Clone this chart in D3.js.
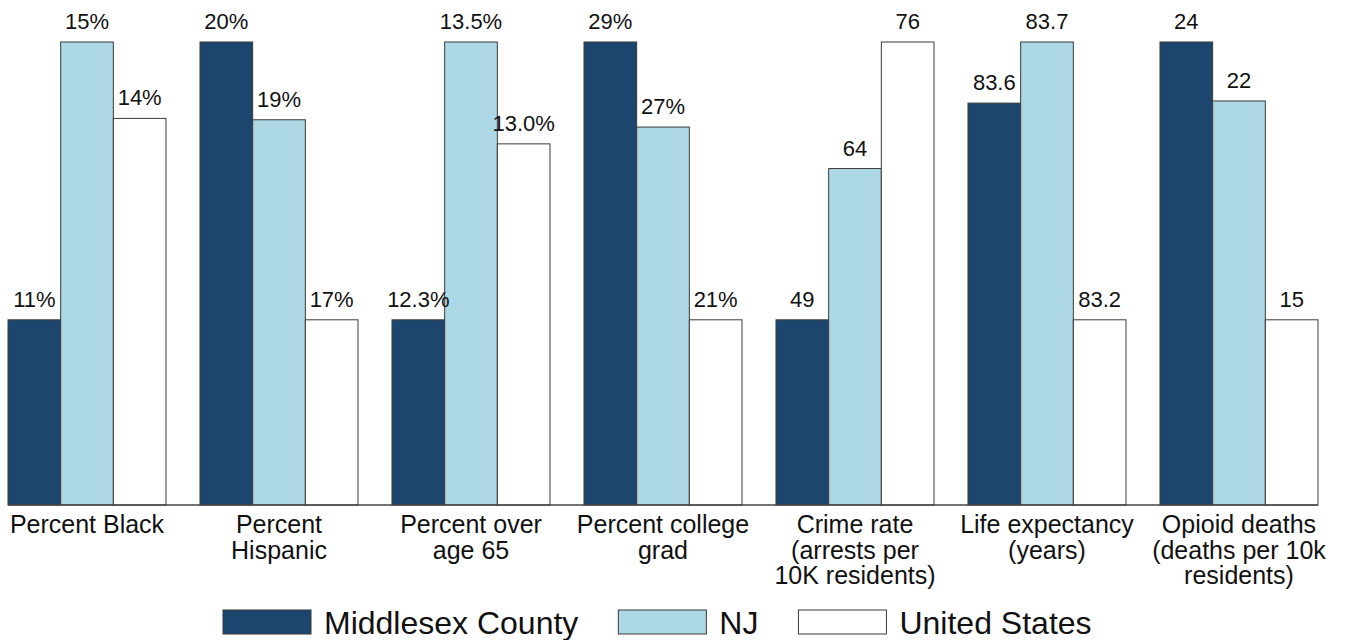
<!DOCTYPE html>
<html>
<head>
<meta charset="utf-8">
<script src="https://cdn.jsdelivr.net/npm/d3@7"></script>
<style>
  body { margin: 0; background: white; }
  svg { font-family: "Liberation Sans", Arial, sans-serif; }
</style>
</head>
<body>
<svg id="chart"></svg>
<script>
// categories and series
const categories = [
  ["Percent Black"],
  ["Percent", "Hispanic"],
  ["Percent over", "age 65"],
  ["Percent college", "grad"],
  ["Crime rate", "(arrests per", "10K residents)"],
  ["Life expectancy", "(years)"],
  ["Opioid deaths", "(deaths per 10k", "residents)"]
];
const seriesNames = ["Middlesex County", "NJ", "United States"];

const middlesex = [11, 20, 12.3, 29, 49, 83.59, 24];
const nj        = [15, 19.16, 13.5, 26.55, 63.7, 83.7, 22.09];
const us        = [13.9, 17, 13.06, 21, 76, 83.2, 15];

const middlesexLabels = ["11%", "20%", "12.3%", "29%", "49", "83.6", "24"];
const njLabels        = ["15%", "19%", "13.5%", "27%", "64", "83.7", "22"];
const usLabels        = ["14%", "17%", "13.0%", "21%", "76", "83.2", "15"];

const colors = ["#1c466e", "#add8e6", "#ffffff"];

const width = 1348, height = 640;
const margin = {top: 42, left: 8, right: 30, bottom: 135};
const baseY = height - margin.bottom;

const svg = d3.select("#chart")
  .attr("width", width)
  .attr("height", height);

const series = [middlesex, nj, us];
const labels = [middlesexLabels, njLabels, usLabels];

const x = d3.scaleBand()
  .domain(d3.range(categories.length))
  .range([margin.left, width - margin.right])
  .paddingInner(0.177)
  .paddingOuter(0);

const xs = d3.scaleBand()
  .domain(d3.range(series.length))
  .range([0, x.bandwidth()]);

// each group gets its own scale: smallest value sits at 40% of full height
categories.forEach((cat, i) => {
  const vals = series.map(s => s[i]);
  const y = d3.scaleLinear()
    .domain([d3.min(vals), d3.max(vals)])
    .range([baseY - 0.4 * (baseY - margin.top), margin.top]);

  const g = svg.append("g")
    .attr("transform", `translate(${x(i)},0)`);

  g.selectAll("rect")
    .data(vals)
    .join("rect")
    .attr("x", (d, j) => xs(j))
    .attr("y", d => y(d))
    .attr("width", xs.bandwidth())
    .attr("height", d => baseY - y(d))
    .attr("fill", (d, j) => colors[j])
    .attr("stroke", "#3a3a3a")
    .attr("stroke-width", 1);

  g.selectAll("text.val")
    .data(vals)
    .join("text")
    .attr("class", "val")
    .attr("x", (d, j) => xs(j) + xs.bandwidth() / 2)
    .attr("y", d => y(d) - 13)
    .attr("text-anchor", "middle")
    .attr("font-size", 22)
    .attr("fill", "#111")
    .text((d, j) => labels[j][i]);

  const t = svg.append("text")
    .attr("x", x(i) + x.bandwidth() / 2)
    .attr("y", baseY + 28)
    .attr("text-anchor", "middle")
    .attr("font-size", 25)
    .attr("fill", "#111");
  cat.forEach((line, k) => {
    t.append("tspan")
      .attr("x", x(i) + x.bandwidth() / 2)
      .attr("y", baseY + 28 + k * 25.5)
      .text(line);
  });
});

// baseline
svg.append("line")
  .attr("x1", x(0))
  .attr("x2", x(categories.length - 1) + x.bandwidth())
  .attr("y1", baseY)
  .attr("y2", baseY)
  .attr("stroke", "#444")
  .attr("stroke-width", 1.5);

// legend
const legend = svg.append("g").attr("transform", "translate(223,610)");
let lx = 0;
seriesNames.forEach((name, j) => {
  legend.append("rect")
    .attr("x", lx).attr("y", 0)
    .attr("width", 88).attr("height", 24)
    .attr("fill", colors[j])
    .attr("stroke", "#3a3a3a")
    .attr("stroke-width", 1);
  const txt = legend.append("text")
    .attr("x", lx + 101)
    .attr("y", 24)
    .attr("font-size", 32)
    .attr("fill", "#111")
    .text(name);
  lx += 101 + txt.node().getComputedTextLength() + 40;
});
</script>
</body>
</html>
